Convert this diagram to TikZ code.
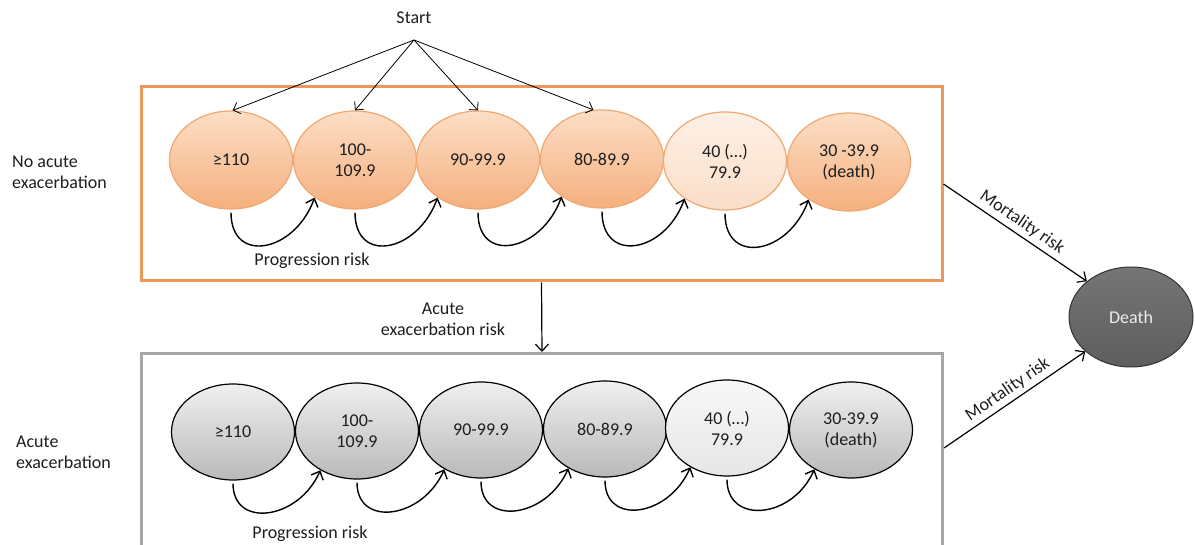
\documentclass[tikz,border=0pt]{standalone}
\usepackage{fontspec}
\setmainfont{Carlito}
\usetikzlibrary{arrows.meta,calc,shapes.geometric}
\definecolor{boxorange}{RGB}{236,152,92}
\definecolor{ellorange}{RGB}{240,168,112}
\definecolor{otop}{RGB}{252,222,198}
\definecolor{obot}{RGB}{245,176,126}
\definecolor{oltop}{RGB}{254,240,230}
\definecolor{olbot}{RGB}{250,222,200}
\definecolor{gtop}{RGB}{240,240,240}
\definecolor{gbot}{RGB}{185,185,185}
\definecolor{gltop}{RGB}{248,248,248}
\definecolor{glbot}{RGB}{230,230,230}
\definecolor{boxgray}{RGB}{166,166,166}
\definecolor{deathfill}{RGB}{110,110,110}
\definecolor{txt}{RGB}{30,30,30}
\begin{document}
\begin{tikzpicture}[x=1pt,y=1pt,
  font=\fontsize{18}{21}\selectfont, text=txt,
  ostate/.style={ellipse, draw=ellorange, line width=1.2pt, top color=otop, bottom color=obot,
     minimum width=123pt, minimum height=98pt, inner sep=0pt, align=center},
  olight/.style={ostate, top color=oltop, bottom color=olbot},
  gstate/.style={ellipse, draw=black, line width=1.2pt, top color=gtop, bottom color=gbot,
     minimum width=123pt, minimum height=96pt, inner sep=0pt, align=center},
  glight/.style={gstate, top color=gltop, bottom color=glbot},
  looparr/.style={-{Straight Barb[length=7pt,width=13pt]}, line width=1.4pt, shorten <=3pt},
  startarr/.style={-{Straight Barb[length=6pt,width=12pt]}, line width=0.8pt},
  mortarr/.style={-{Straight Barb[length=7pt,width=13pt]}, line width=1.2pt},
  lbl/.style={inner sep=1pt, align=center}]
\useasboundingbox (0,0) rectangle (1195,-545);
\clip (0,0) rectangle (1195,-545);
\fill[white] (0,0) rectangle (1195,-545);

% boxes
\node[draw=boxorange, line width=3pt, minimum width=801pt, minimum height=194pt,
      inner sep=0pt, anchor=north west] (topbox) at (139.5,-85.5) {};
\node[draw=boxgray, line width=3pt, minimum width=801pt, minimum height=250pt,
      inner sep=0pt, anchor=north west] (botbox) at (140,-352) {};

% top row
\node[ostate] (t1) at (231,-160) {≥110};
\node[ostate] (t2) at (355,-160) {100-\\109.9};
\node[ostate] (t3) at (478,-160) {90-99.9};
\node[ostate] (t4) at (602,-159) {80-89.9};
\node[olight] (t5) at (725,-161) {40 (…)\\79.9};
\node[ostate] (t6) at (849,-162) {30 -39.9\\(death)};

% bottom row
\node[gstate] (b1) at (233,-432) {≥110};
\node[gstate] (b2) at (357,-431) {100-\\109.9};
\node[gstate] (b3) at (481,-430) {90-99.9};
\node[gstate] (b4) at (605,-429) {80-89.9};
\node[glight] (b5) at (727,-428) {40 (…)\\79.9};
\node[gstate] (b6) at (851,-430) {30-39.9\\(death)};

% death
\node[ellipse, draw=black!80, line width=1pt, top color=deathfill!95!white, bottom color=deathfill!85!black,
      minimum width=124pt, minimum height=100pt, inner sep=0pt, text=white!92!black] (death) at (1131,-317) {Death};

% start
\node[lbl] (start) at (414,-18) {Start};
\coordinate (sp) at (414,-40);
\draw[startarr] (sp) -- (t1.88);
\draw[startarr] (sp) -- (t2.90);
\draw[startarr] (sp) -- (t3.90);
\draw[startarr] (sp) -- (t4.100);

% progression loops top
\foreach \a/\b in {t1/t2,t2/t3,t3/t4,t4/t5,t5/t6}{
  \draw[looparr] (\a.south) .. controls +(0,-55) and +(-20,-55) .. (\b.223);
}
% progression loops bottom
\foreach \a/\b in {b1/b2,b2/b3,b3/b4,b4/b5,b5/b6}{
  \draw[looparr] (\a.south) .. controls +(0,-48) and +(-22,-50) .. (\b.227);
}

\node[lbl] (prog1) at (312,-261) {Progression risk};
\node[lbl] (prog2) at (310,-534) {Progression risk};

% side labels
\node[lbl, align=left, anchor=west] (noacute) at (11,-172) {No acute\\exacerbation};
\node[lbl, align=left, anchor=west] (acute) at (15,-452) {Acute\\exacerbation};

% transition between boxes
\draw[mortarr] (topbox.south) -- (botbox.north);
\node[lbl] (aerisk) at (443,-319) {Acute\\exacerbation risk};

% mortality
\coordinate (m2) at (botbox.east |- 0,-448);
\draw[mortarr] (topbox.east) -- (death.141) node[midway, sloped, above, inner sep=4pt] {Mortality risk};
\draw[mortarr] (m2) -- (death.217) node[midway, sloped, above, inner sep=4pt] {Mortality risk};
\end{tikzpicture}
\end{document}
